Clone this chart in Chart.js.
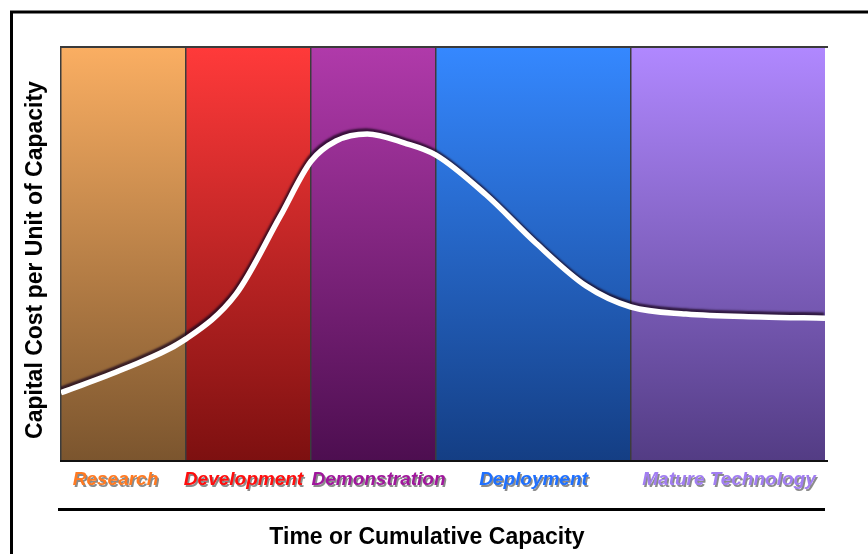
<!DOCTYPE html>
<html>
<head>
<meta charset="utf-8">
<script src="https://cdn.jsdelivr.net/npm/chart.js@4/dist/chart.umd.min.js"></script>
<style>
  html, body { margin: 0; padding: 0; background: #fff; }
  #wrap { position: relative; width: 868px; height: 554px; }
</style>
</head>
<body>
<div id="wrap"><canvas id="stageChart" width="868" height="554"></canvas></div>
<script>
// stage bands (x in units of one narrow band width)
const stageNames = ['Research', 'Development', 'Demonstration', 'Deployment', 'Mature Technology'];
const stageEdges = [0, 1, 2, 3, 4.56, 6.112];
const stageTop = ['#faae62', '#ff3a3a', '#b03aaa', '#3588ff', '#b088ff'];
const stageBottom = ['#7b552e', '#7d1010', '#4d0e50', '#143e84', '#533c84'];
const labelColors = ['#ff7a22', '#ff0d0d', '#a0169c', '#1f70ff', '#a27ef2'];
const labelOffsets = [-8, -5, 5, 0, 1];

// capital cost curve
const costX = [0, 0.5, 1.0, 1.4, 1.75, 2.0, 2.2, 2.45, 2.75, 3.0, 3.4, 3.8, 4.2, 4.56, 5.0, 5.6, 6.112];
const costY = [16.5, 22.2, 29.5, 40.3, 58.9, 72.4, 77.3, 79, 76.8, 73.9, 64.3, 52.6, 42.3, 37.2, 35.5, 34.8, 34.5];

const yTitle = 'Capital Cost per Unit of Capacity';
const xTitle = 'Time or Cumulative Capacity';

const canvas = document.getElementById('stageChart');
canvas.style.width = '868px';
canvas.style.height = '554px';

// bands, frame and texts drawn off the chart scales
const stagePlugin = {
    id: 'stages',
    beforeDatasetsDraw(chart) {
        const ctx = chart.ctx;
        const xs = chart.scales.x, ys = chart.scales.y;
        const top = ys.getPixelForValue(100), bottom = ys.getPixelForValue(0);
        ctx.save();
        for (let i = 0; i < stageNames.length; i++) {
            const x0 = xs.getPixelForValue(stageEdges[i]);
            const x1 = xs.getPixelForValue(stageEdges[i + 1]);
            const g = ctx.createLinearGradient(0, top, 0, bottom);
            g.addColorStop(0, stageTop[i]);
            g.addColorStop(1, stageBottom[i]);
            ctx.fillStyle = g;
            ctx.fillRect(x0, top, x1 - x0, bottom - top);
        }
        // separators
        ctx.strokeStyle = '#3c3c3c';
        ctx.lineWidth = 1.5;
        for (let i = 0; i < stageEdges.length - 1; i++) {
            const x = Math.round(xs.getPixelForValue(stageEdges[i])) - 0.25;
            ctx.beginPath();
            ctx.moveTo(x, top);
            ctx.lineTo(x, bottom);
            ctx.stroke();
        }
        const right = xs.getPixelForValue(stageEdges[stageEdges.length - 1]);
        ctx.lineWidth = 2;
        ctx.strokeStyle = '#3a3a3a';
        ctx.beginPath();
        ctx.moveTo(xs.left - 1, top);
        ctx.lineTo(right + 3, top);
        ctx.stroke();
        ctx.strokeStyle = '#111';
        ctx.beginPath();
        ctx.moveTo(xs.left - 1, bottom);
        ctx.lineTo(right + 3, bottom);
        ctx.stroke();
        ctx.restore();
    },
    beforeDatasetDraw(chart) {
        const ctx = chart.ctx;
        ctx.save();
        ctx.shadowColor = 'rgba(25, 5, 30, 0.75)';
        ctx.shadowOffsetX = -1;
        ctx.shadowOffsetY = -3;
        ctx.shadowBlur = 2;
    },
    afterDatasetDraw(chart) {
        chart.ctx.restore();
    },
    afterDraw(chart) {
        const ctx = chart.ctx;
        const xs = chart.scales.x;
        ctx.save();
        // outer frame
        ctx.strokeStyle = '#000';
        ctx.lineWidth = 3;
        ctx.beginPath();
        ctx.moveTo(11.5, 560);
        ctx.lineTo(11.5, 12);
        ctx.lineTo(880, 12);
        ctx.stroke();

        // stage labels
        ctx.font = 'italic bold 19px "Liberation Sans", Arial, sans-serif';
        ctx.textAlign = 'center';
        ctx.textBaseline = 'middle';
        for (let i = 0; i < stageNames.length; i++) {
            const cx = (xs.getPixelForValue(stageEdges[i]) + xs.getPixelForValue(stageEdges[i + 1])) / 2 + labelOffsets[i];
            ctx.fillStyle = 'rgba(110,110,110,0.8)';
            ctx.fillText(stageNames[i], cx + 1.5, 481.5);
            ctx.fillStyle = labelColors[i];
            ctx.fillText(stageNames[i], cx, 480);
        }

        // rule above the axis title
        ctx.strokeStyle = '#000';
        ctx.lineWidth = 3;
        ctx.beginPath();
        ctx.moveTo(58, 509.5);
        ctx.lineTo(825, 509.5);
        ctx.stroke();

        ctx.fillStyle = '#000';
        ctx.font = 'bold 23px "Liberation Sans", Arial, sans-serif';
        ctx.fillText(xTitle, 427, 538);

        ctx.translate(36, 260);
        ctx.rotate(-Math.PI / 2);
        ctx.fillText(yTitle, 0, 0);
        ctx.restore();
    }
};

new Chart(canvas, {
    type: 'line',
    data: {
        datasets: [{
            label: 'Capital cost',
            data: costX.map((x, i) => ({ x: x, y: costY[i] })),
            borderColor: '#ffffff',
            borderWidth: 5.5,
            pointRadius: 0,
            cubicInterpolationMode: 'monotone',
            fill: false
        }]
    },
    options: {
        responsive: false,
        maintainAspectRatio: false,
        animation: false,
        layout: { padding: { left: 61, right: 43, top: 47, bottom: 93 } },
        plugins: {
            legend: { display: false },
            tooltip: { enabled: false }
        },
        scales: {
            x: { type: 'linear', min: 0, max: 6.112, display: false },
            y: { min: 0, max: 100, display: false }
        }
    },
    plugins: [stagePlugin]
});
</script>
</body>
</html>
